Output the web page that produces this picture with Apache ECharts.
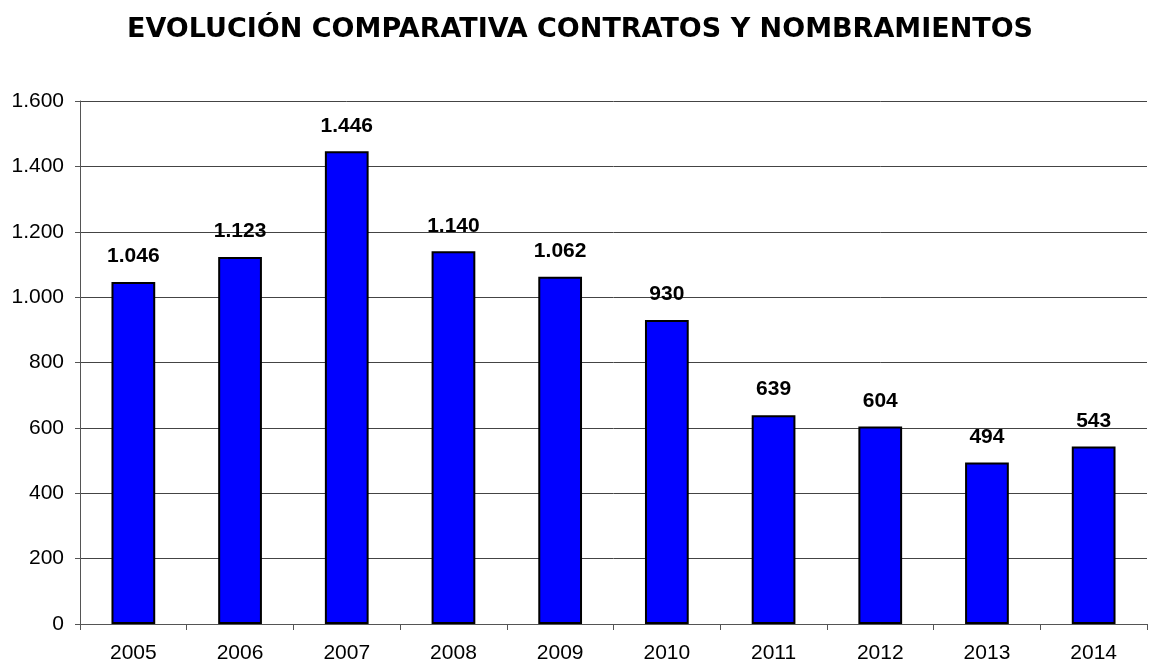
<!DOCTYPE html>
<html><head><meta charset="utf-8">
<script src="https://cdn.jsdelivr.net/npm/echarts@6/dist/echarts.min.js"></script>
<style>html,body{margin:0;padding:0;background:#fff}#c{width:1149px;height:664px}</style>
</head><body><div id="c"></div>
<script>
var categories = ['2005','2006','2007','2008','2009','2010','2011','2012','2013','2014'];
var values = [1046,1123,1446,1140,1062,930,639,604,494,543];
var titleText = 'EVOLUCIÓN COMPARATIVA CONTRATOS Y NOMBRAMIENTOS';
function fmt(v){ return String(v).replace(/\B(?=(\d{3})+(?!\d))/g,'.'); }
var chart = echarts.init(document.getElementById('c'));
chart.setOption({
  animation:false,
  title:{text:titleText,left:122,top:11,textStyle:{fontFamily:'DejaVu Sans',fontWeight:'bold',fontSize:27,color:'#000'}},
  grid:{left:80,right:2,top:101,bottom:40},
  xAxis:{type:'category',data:categories,
    axisLine:{lineStyle:{color:'#555',width:1}},
    axisTick:{show:true,length:6,lineStyle:{color:'#555'}},
    axisLabel:{color:'#000',fontFamily:'Liberation Sans',fontSize:21,margin:19}},
  yAxis:{type:'value',min:0,max:1600,interval:200,
    axisLine:{show:true,lineStyle:{color:'#555'}},
    axisTick:{show:true,length:5,lineStyle:{color:'#555'}},
    splitLine:{lineStyle:{color:'#444',width:1}},
    axisLabel:{color:'#000',fontFamily:'Liberation Sans',fontSize:21,margin:16,formatter:fmt}},
  series:[{type:'bar',data:values,barWidth:'41%',
    itemStyle:{color:'#0000FF',borderColor:'#000',borderWidth:2},
    label:{show:true,position:'top',distance:15,fontFamily:'Liberation Sans',fontWeight:'bold',fontSize:21,color:'#000',formatter:function(p){return fmt(p.value);}}}]
});
</script></body></html>
